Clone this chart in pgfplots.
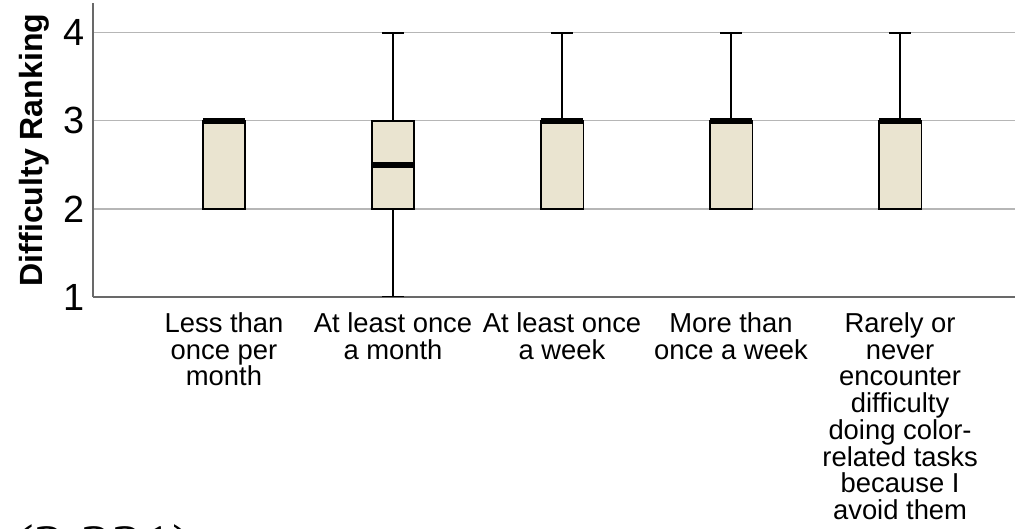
\documentclass[border=0pt]{standalone}
\usepackage{fontspec}
\setmainfont{Liberation Sans}
\newfontfamily\seriffam{Liberation Serif}
\usepackage{pgfplots}
\pgfplotsset{compat=1.18}
\usepgfplotslibrary{statistics}
\definecolor{boxfill}{RGB}{234,228,208}
\definecolor{gridc}{RGB}{182,182,182}
\definecolor{axc}{RGB}{105,105,105}
\begin{document}
\begin{tikzpicture}
\begin{axis}[
  at={(93bp,232bp)}, anchor=south west,
  scale only axis, width=922bp, height=294bp,
  xmin=-0.775, xmax=4.68, ymin=1, ymax=4.34,
  axis x line*=bottom, axis y line*=left,
  axis line style={draw=axc, line width=1.1bp},
  ymajorgrids, grid style={draw=gridc, line width=1.1bp},
  ytick={1,2,3,4}, xtick={0,1,2,3,4},
  xticklabels={{Less than\\once per\\month},{At least once\\a month},{At least once\\a week},{More than\\once a week},{Rarely or\\never\\encounter\\difficulty\\doing color-\\related tasks\\because I\\avoid them}},
  major tick length=0pt,
  /pgf/number format/assume math mode=true,
  yticklabel style={font=\fontsize{38}{38}\selectfont, inner sep=0pt, anchor=east, xshift=-8bp},
  xticklabel style={font=\fontsize{27.5}{26.8}\selectfont, align=center, inner sep=0pt, anchor=north, yshift=-15.5bp},
  ylabel={Difficulty Ranking},
  ylabel style={font=\fontsize{32.2}{32.2}\selectfont\bfseries, at={(axis description cs:-0.064,0.5)}, anchor=center, rotate=0},
  boxplot/draw direction=y,
  boxplot/draw/median/.code={\draw[line width=5.5bp, black, fill=none] (boxplot box cs:\pgfplotsboxplotvalue{median},0) -- (boxplot box cs:\pgfplotsboxplotvalue{median},1);},
  every axis plot/.append style={draw=black, fill=boxfill, line width=1.3bp},
]
\addplot[boxplot prepared={lower whisker=2, lower quartile=2, median=3, upper quartile=3, upper whisker=3, draw position=0, box extend=0.25, whisker extend=0.13}] coordinates {};
\addplot[boxplot prepared={lower whisker=1, lower quartile=2, median=2.5, upper quartile=3, upper whisker=4, draw position=1, box extend=0.25, whisker extend=0.13}] coordinates {};
\addplot[boxplot prepared={lower whisker=2, lower quartile=2, median=3, upper quartile=3, upper whisker=4, draw position=2, box extend=0.25, whisker extend=0.13}] coordinates {};
\addplot[boxplot prepared={lower whisker=2, lower quartile=2, median=3, upper quartile=3, upper whisker=4, draw position=3, box extend=0.25, whisker extend=0.13}] coordinates {};
\addplot[boxplot prepared={lower whisker=2, lower quartile=2, median=3, upper quartile=3, upper whisker=4, draw position=4, box extend=0.25, whisker extend=0.13}] coordinates {};
\end{axis}
\node[anchor=base west, inner sep=0pt, font=\seriffam\fontsize{62}{62}\selectfont] at (-4bp,-38.5bp) {t(3.331)};
\pgfresetboundingbox
\useasboundingbox (0,0) rectangle (1015bp,529bp);
\end{tikzpicture}
\end{document}
